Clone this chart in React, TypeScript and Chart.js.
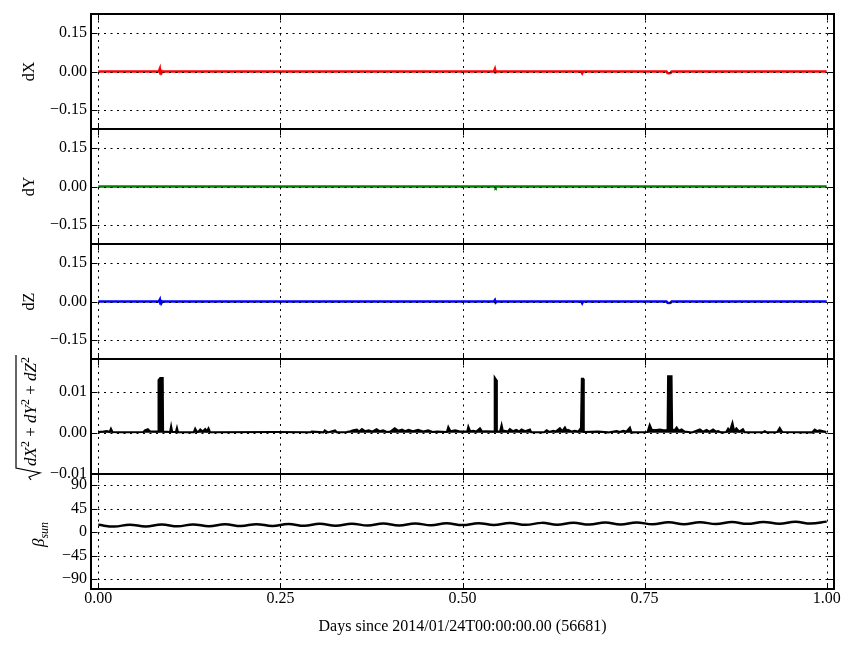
import React, { useEffect, useRef } from 'react';
import { Chart, registerables } from 'chart.js';

Chart.register(...registerables);

const FONT_FAMILY = "'Liberation Serif', 'Times New Roman', Times, serif";

// ---------------- data ----------------
const xTickValues = [0, 0.25, 0.5, 0.75, 1.0];
const xTickLabels = ['0.00', '0.25', '0.50', '0.75', '1.00'];
const xAxisTitle = 'Days since 2014/01/24T00:00:00.00 (56681)';

const posTickValues = [-0.15, 0, 0.15];
const posTickLabels = ['\u22120.15', '0.00', '0.15'];
const magTickValues = [-0.01, 0, 0.01];
const magTickLabels = ['\u22120.01', '0.00', '0.01'];
const betaTickValues = [-90, -45, 0, 45, 90];
const betaTickLabels = ['\u221290', '\u221245', '0', '45', '90'];

const dxX = [0, 0.083, 0.0845, 0.0852, 0.086, 0.0868, 0.088, 0.543, 0.5445, 0.5455, 0.547, 0.663, 0.6643, 0.6655, 0.78, 0.7815, 0.7835, 0.7855, 0.787, 1.0];
const dxVal = [0, 0, 0.011, -0.008, 0.007, -0.005, 0, 0, 0.010, -0.003, 0, 0, -0.007, 0, 0, -0.006, -0.007, -0.006, 0, 0];

const dyX = [0, 0.085, 0.0855, 0.086, 0.545, 0.5455, 0.546, 1.0];
const dyVal = [0, 0, 0.002, 0, 0, -0.002, 0, 0];

const dzX = [0, 0.083, 0.0845, 0.0852, 0.086, 0.0868, 0.088, 0.543, 0.5445, 0.5455, 0.547, 0.663, 0.6643, 0.6655, 0.78, 0.7815, 0.7835, 0.7855, 0.787, 1.0];
const dzVal = [0, 0, 0.008, -0.008, 0.006, -0.006, 0, 0, 0.006, -0.004, 0, 0, -0.007, 0, 0, -0.005, -0.006, -0.005, 0, 0];

const magX = [
  0.000, 0.007, 0.012, 0.0155, 0.0174, 0.0195, 0.026, 0.040, 0.062, 0.064, 0.068, 0.071, 0.078, 0.0822,
  0.0827, 0.0850, 0.0885, 0.0890, 0.0985, 0.1000, 0.1015, 0.1065, 0.1080, 0.1095, 0.131, 0.133, 0.1355,
  0.1376, 0.140, 0.1435, 0.1468, 0.149, 0.1513, 0.1536, 0.243, 0.291, 0.293, 0.309, 0.311, 0.315, 0.325,
  0.328, 0.341, 0.346, 0.350, 0.355, 0.358, 0.362, 0.366, 0.371, 0.376, 0.382, 0.386, 0.391, 0.396, 0.401,
  0.407, 0.412, 0.417, 0.421, 0.426, 0.432, 0.439, 0.446, 0.453, 0.459, 0.465, 0.4785, 0.4805, 0.4835,
  0.490, 0.4966, 0.502, 0.5065, 0.508, 0.5105, 0.515, 0.519, 0.524, 0.527, 0.531, 0.5435, 0.5442, 0.5465,
  0.5472, 0.5515, 0.5537, 0.5555, 0.558, 0.562, 0.565, 0.569, 0.574, 0.578, 0.581, 0.586, 0.5926, 0.5945,
  0.612, 0.6155, 0.619, 0.6246, 0.628, 0.6337, 0.637, 0.6406, 0.643, 0.645, 0.650, 0.654, 0.659, 0.6626,
  0.6638, 0.6655, 0.6665, 0.686, 0.700, 0.7115, 0.716, 0.7206, 0.725, 0.7298, 0.732, 0.754, 0.757, 0.760,
  0.766, 0.771, 0.776, 0.780, 0.7815, 0.7822, 0.7870, 0.7878, 0.791, 0.794, 0.797, 0.8007, 0.805, 0.815,
  0.826, 0.830, 0.835, 0.839, 0.844, 0.848, 0.851, 0.855, 0.862, 0.8646, 0.867, 0.8706, 0.873, 0.876,
  0.880, 0.885, 0.8875, 0.912, 0.915, 0.918, 0.932, 0.9355, 0.939, 0.980, 0.9835, 0.987, 0.990, 0.9995,
];
const magVal = [
  0.0002, 0.0003, 0.0004, 0.0002, 0.0010, 0.0002, 0.0001, 0.0001, 0.0002, 0.0006, 0.0009, 0.0004, 0.0003, 0.0003,
  0.0128, 0.0133, 0.0133, 0.0003, 0.0002, 0.0016, 0.0002, 0.0002, 0.0012, 0.0001, 0.0001, 0.0010, 0.0002,
  0.0003, 0.0008, 0.0003, 0.0009, 0.0004, 0.0011, 0.0001, 0.0002, 0.0001, 0.0003, 0.0001, 0.0006, 0.0001, 0.0006,
  0.0001, 0.0002, 0.0004, 0.0006, 0.0008, 0.0003, 0.0009, 0.0004, 0.0006, 0.0003, 0.0009, 0.0004, 0.0006, 0.0002, 0.0003,
  0.0011, 0.0005, 0.0008, 0.0004, 0.0007, 0.0004, 0.0007, 0.0003, 0.0006, 0.0002, 0.0003, 0.0002, 0.0014, 0.0004,
  0.0006, 0.0003, 0.0003, 0.0003, 0.0015, 0.0004, 0.0005, 0.0003, 0.0011, 0.0003, 0.0004, 0.0003, 0.0134, 0.0128,
  0.0003, 0.0003, 0.0019, 0.0004, 0.0005, 0.0003, 0.0009, 0.0004, 0.0007, 0.0003, 0.0008, 0.0004, 0.0008, 0.0001,
  0.0001, 0.0006, 0.0002, 0.0005, 0.0003, 0.0011, 0.0004, 0.0013, 0.0005, 0.0007, 0.0003, 0.0005, 0.0003, 0.0012,
  0.0131, 0.0131, 0.0002, 0.0003, 0.0001, 0.0004, 0.0002, 0.0005, 0.0003, 0.0013, 0.0001, 0.0002, 0.0019, 0.0007,
  0.0007, 0.0008, 0.0006, 0.0007, 0.0008, 0.0137, 0.0137, 0.0008, 0.0006, 0.0013, 0.0005, 0.0008, 0.0003, 0.0001,
  0.0008, 0.0003, 0.0007, 0.0003, 0.0008, 0.0003, 0.0004, 0.0001, 0.0002, 0.0010, 0.0004, 0.0024, 0.0004, 0.0011,
  0.0003, 0.0009, 0.0001, 0.0001, 0.0004, 0.0001, 0.0002, 0.0012, 0.0002, 0.0001, 0.0008, 0.0004, 0.0006, 0.0002,
];

const betaX = [
  0.000, 0.022, 0.043, 0.065, 0.087, 0.109, 0.130, 0.152, 0.174, 0.196, 0.217, 0.239, 0.261, 0.283, 0.304, 0.326,
  0.348, 0.370, 0.391, 0.413, 0.435, 0.457, 0.478, 0.500, 0.522, 0.543, 0.565, 0.587, 0.609, 0.630, 0.652, 0.674,
  0.696, 0.717, 0.739, 0.761, 0.783, 0.804, 0.826, 0.848, 0.870, 0.891, 0.913, 0.935, 0.957, 0.978, 1.000,
];
const betaVal = [
  13.8, 10.4, 14.1, 10.6, 14.3, 10.9, 14.6, 11.1, 14.8, 11.4, 15.1, 11.6, 15.3, 11.9, 15.6, 12.2,
  15.9, 12.4, 16.1, 12.7, 16.4, 12.9, 16.7, 13.2, 16.9, 13.5, 17.2, 13.7, 17.5, 14.0, 17.7, 14.3,
  18.0, 14.5, 18.3, 14.8, 18.5, 15.1, 18.8, 15.3, 19.1, 15.6, 19.3, 15.9, 19.6, 16.1, 19.9,
];

// ---------------- layout ----------------
const W = 857;
const PAD = 20;
const PANEL_H = 115;
const LEFT = 91;
const RIGHT_PAD = 23;
const XAXIS_H = 61;

type Seg = { t: string; font: string; dy: number };

function drawSegments(ctx: CanvasRenderingContext2D, segs: Seg[], startU: number) {
  let u = startU;
  for (const s of segs) {
    ctx.font = s.font;
    ctx.fillText(s.t, u, s.dy);
    u += ctx.measureText(s.t).width;
  }
  return u;
}
function segWidth(ctx: CanvasRenderingContext2D, segs: Seg[]) {
  let w = 0;
  for (const s of segs) { ctx.font = s.font; w += ctx.measureText(s.t).width; }
  return w;
}

function plainTitle(text: string) {
  return (ctx: CanvasRenderingContext2D, area: any) => {
    const cy = (area.top + area.bottom) / 2;
    ctx.save();
    ctx.translate(30, cy);
    ctx.rotate(-Math.PI / 2);
    ctx.fillStyle = '#000';
    ctx.font = `16px ${FONT_FAMILY}`;
    ctx.textAlign = 'center';
    ctx.textBaseline = 'middle';
    ctx.fillText(text, 0, 0);
    ctx.restore();
  };
}

function sqrtTitle(ctx: CanvasRenderingContext2D, area: any) {
  const cy = (area.top + area.bottom) / 2 + 1;
  const it = `italic 17px ${FONT_FAMILY}`;
  const rm = `17px ${FONT_FAMILY}`;
  const sup = `12px ${FONT_FAMILY}`;
  const segs: Seg[] = [
    { t: 'dX', font: it, dy: 0 }, { t: '2', font: sup, dy: -7 }, { t: ' + ', font: rm, dy: 0 },
    { t: 'dY', font: it, dy: 0 }, { t: '2', font: sup, dy: -7 }, { t: ' + ', font: rm, dy: 0 },
    { t: 'dZ', font: it, dy: 0 }, { t: '2', font: sup, dy: -7 },
  ];
  ctx.save();
  ctx.translate(36, cy);
  ctx.rotate(-Math.PI / 2);
  ctx.fillStyle = '#000';
  ctx.strokeStyle = '#000';
  ctx.textAlign = 'left';
  ctx.textBaseline = 'alphabetic';
  const radW = 14;
  const tw = segWidth(ctx, segs);
  const total = radW + tw + 2;
  const s0 = -total / 2;
  const end = drawSegments(ctx, segs, s0 + radW);
  ctx.lineWidth = 1.2;
  ctx.beginPath();
  ctx.moveTo(s0, -5);
  ctx.lineTo(s0 + 3, -7);
  ctx.lineTo(s0 + 7, 4);
  ctx.lineTo(s0 + 12, -20);
  ctx.lineTo(end + 2, -20);
  ctx.stroke();
  ctx.restore();
}

function betaTitle(ctx: CanvasRenderingContext2D, area: any) {
  const cy = (area.top + area.bottom) / 2 + 3;
  const segs: Seg[] = [
    { t: '\u03B2', font: `italic 17px ${FONT_FAMILY}`, dy: 0 },
    { t: 'sun', font: `italic 12px ${FONT_FAMILY}`, dy: 4 },
  ];
  ctx.save();
  ctx.translate(44, cy);
  ctx.rotate(-Math.PI / 2);
  ctx.fillStyle = '#000';
  ctx.textAlign = 'left';
  ctx.textBaseline = 'alphabetic';
  const w = segWidth(ctx, segs);
  drawSegments(ctx, segs, -w / 2);
  ctx.restore();
}

type PanelSpec = {
  id: string;
  top: number;
  min: number;
  max: number;
  yTicks: number[];
  yLabels: string[];
  xs: number[];
  vals: number[];
  color: string;
  width: number;
  fill?: boolean;
  tension?: number;
  bottom?: boolean;
  drawTitle: (ctx: CanvasRenderingContext2D, area: any) => void;
};

function Panel({ spec }: { spec: PanelSpec }) {
  const ref = useRef<HTMLCanvasElement>(null);
  const h = PAD + PANEL_H + (spec.bottom ? XAXIS_H : PAD);
  useEffect(() => {
    const decor = {
      id: 'decor' + spec.id,
      afterDatasetsDraw(chart: any) {
        const { ctx, chartArea } = chart;
        const { left, right, top, bottom } = chartArea;
        const xs = chart.scales.x, ys = chart.scales.y;
        ctx.save();
        ctx.strokeStyle = '#000';
        ctx.lineWidth = 1;
        ctx.setLineDash([2, 4.5]);
        ctx.beginPath();
        for (const v of xTickValues) {
          const p = Math.round(xs.getPixelForValue(v)) + 0.5;
          ctx.moveTo(p, top); ctx.lineTo(p, bottom);
        }
        for (const v of spec.yTicks) {
          const p = Math.round(ys.getPixelForValue(v)) + 0.5;
          ctx.moveTo(left, p); ctx.lineTo(right, p);
        }
        ctx.stroke();
        ctx.setLineDash([]);
        ctx.beginPath();
        const T = 6;
        for (const v of xTickValues) {
          const p = Math.round(xs.getPixelForValue(v)) + 0.5;
          ctx.moveTo(p, top); ctx.lineTo(p, top + T);
          ctx.moveTo(p, bottom); ctx.lineTo(p, bottom - T);
        }
        for (const v of spec.yTicks) {
          const p = Math.round(ys.getPixelForValue(v)) + 0.5;
          ctx.moveTo(left, p); ctx.lineTo(left + T, p);
          ctx.moveTo(right, p); ctx.lineTo(right - T, p);
        }
        ctx.stroke();
        ctx.lineWidth = 2;
        ctx.strokeRect(left, top, right - left, bottom - top);
        ctx.restore();
        spec.drawTitle(ctx, chartArea);
      },
    };
    const chart = new Chart(ref.current as HTMLCanvasElement, {
      type: 'line',
      data: {
        datasets: [
          {
            data: spec.xs.map((x, i) => ({ x, y: spec.vals[i] })),
            borderColor: spec.color,
            backgroundColor: spec.color,
            borderWidth: spec.width,
            pointRadius: 0,
            fill: spec.fill ? 'origin' : false,
            tension: spec.tension ?? 0,
          },
        ],
      },
      options: {
        animation: false,
        responsive: false,
        maintainAspectRatio: false,
        events: [],
        layout: { padding: { left: 0, right: RIGHT_PAD, top: PAD, bottom: spec.bottom ? 0 : PAD } },
        plugins: { legend: { display: false }, tooltip: { enabled: false } },
        scales: {
          x: {
            type: 'linear',
            min: -0.01,
            max: 1.01,
            display: !!spec.bottom,
            grid: { display: false, drawTicks: false },
            border: { display: false },
            afterBuildTicks: (s: any) => { s.ticks = xTickValues.map((v) => ({ value: v })); },
            ticks: {
              autoSkip: false,
              maxRotation: 0,
              padding: 0,
              color: '#000',
              font: { family: FONT_FAMILY, size: 16 },
              callback: (_v: any, i: number) => xTickLabels[i],
            },
            title: {
              display: true,
              text: xAxisTitle,
              color: '#000',
              font: { family: FONT_FAMILY, size: 16 },
              padding: { top: 0, bottom: 14 },
            },
            afterFit: (s: any) => { if (spec.bottom) s.height = XAXIS_H; },
          },
          y: {
            type: 'linear',
            min: spec.min,
            max: spec.max,
            grid: { display: false, drawTicks: false },
            border: { display: false },
            afterBuildTicks: (s: any) => { s.ticks = spec.yTicks.map((v) => ({ value: v })); },
            ticks: {
              autoSkip: false,
              padding: 4,
              color: '#000',
              font: { family: FONT_FAMILY, size: 16 },
              callback: (_v: any, i: number) => spec.yLabels[i],
            },
            afterFit: (s: any) => { s.width = LEFT; },
          },
        },
      },
      plugins: [decor],
    } as any);
    return () => chart.destroy();
  }, []);
  return (
    <canvas
      ref={ref}
      width={W}
      height={h}
      style={{ position: 'absolute', left: 0, top: spec.top - PAD, width: W, height: h, display: 'block' }}
    />
  );
}

export default function App() {
  const panels: PanelSpec[] = [
    { id: 'dx', top: 14, min: -0.225, max: 0.225, yTicks: posTickValues, yLabels: posTickLabels, xs: dxX, vals: dxVal, color: '#ff0000', width: 2.5, drawTitle: plainTitle('dX') },
    { id: 'dy', top: 129, min: -0.225, max: 0.225, yTicks: posTickValues, yLabels: posTickLabels, xs: dyX, vals: dyVal, color: '#008000', width: 2.5, drawTitle: plainTitle('dY') },
    { id: 'dz', top: 244, min: -0.225, max: 0.225, yTicks: posTickValues, yLabels: posTickLabels, xs: dzX, vals: dzVal, color: '#0000ff', width: 2.5, drawTitle: plainTitle('dZ') },
    { id: 'mag', top: 359, min: -0.01, max: 0.0179, yTicks: magTickValues, yLabels: magTickLabels, xs: magX, vals: magVal, color: '#000000', width: 2, fill: true, drawTitle: sqrtTitle },
    { id: 'beta', top: 474, min: -109, max: 111, yTicks: betaTickValues, yLabels: betaTickLabels, xs: betaX, vals: betaVal, color: '#000000', width: 2.5, tension: 0.4, bottom: true, drawTitle: betaTitle },
  ];
  return (
    <div style={{ position: 'fixed', left: 0, top: 0, width: W, height: 650, background: '#fff', overflow: 'hidden' }}>
      {panels.map((p) => <Panel key={p.id} spec={p} />)}
    </div>
  );
}
